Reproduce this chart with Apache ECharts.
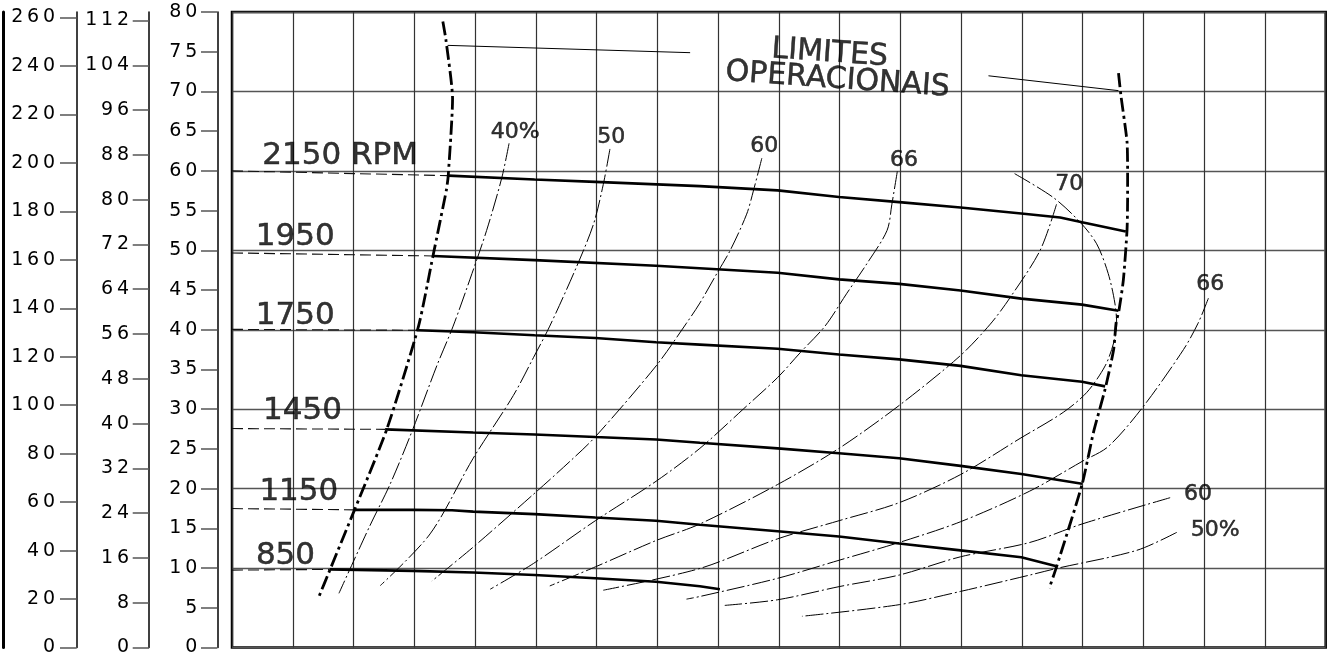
<!DOCTYPE html>
<html>
<head>
<meta charset="utf-8">
<script src="https://cdn.jsdelivr.net/npm/echarts@6/dist/echarts.min.js"></script>
<style>
html,body{margin:0;padding:0;background:#fff;}
#chart{width:1334px;height:657px;}
</style>
</head>
<body>
<div id="chart"></div>
<script>
// ---------- tick labels of the three left scales ----------
const ticksKgf = [0,20,40,60,80,100,120,140,160,180,200,220,240,260];
const ticksPsi = [0,8,16,24,32,40,48,56,64,72,80,88,96,104,112];
const ticksM   = [0,5,10,15,20,25,30,35,40,45,50,55,60,65,70,75,80];

// ---------- rotation curves (x = flow in grid columns, y = head on 0-80 scale) ----------
const rpmNames = ['2150 RPM','1950','1750','1450','1150','850'];
const shutoffHead = [60.0, 49.67, 40.05, 27.56, 17.49, 9.74];
const rpm2150 = [[3.56,59.40],[4.98,58.91],[5.98,58.62],[7.70,58.08],[8.98,57.54],[9.99,56.72],[10.98,56.07],[11.99,55.39],[12.99,54.64],[13.63,54.14],[13.99,53.52],[14.71,52.36]];
const rpm1950 = [[3.31,49.29],[4.98,48.76],[6.98,48.05],[8.98,47.18],[9.99,46.34],[10.98,45.77],[11.99,44.94],[12.99,43.92],[13.99,43.16],[14.59,42.40]];
const rpm1750 = [[3.07,39.93],[3.97,39.68],[4.98,39.30],[5.98,38.97],[6.98,38.43],[7.70,38.13],[8.98,37.60],[9.99,36.89],[10.98,36.27],[11.99,35.45],[12.99,34.28],[13.99,33.46],[14.37,32.87]];
const rpm1450 = [[2.52,27.46],[3.97,27.06],[4.98,26.82],[5.98,26.49],[6.98,26.19],[7.70,25.78],[8.98,25.07],[9.99,24.45],[10.98,23.83],[11.99,22.86],[12.99,21.84],[13.99,20.62]];
const rpm1150 = [[2.02,17.33],[2.97,17.33],[3.62,17.28],[3.97,17.11],[4.98,16.79],[5.98,16.37],[6.98,15.96],[7.70,15.46],[8.98,14.63],[9.99,13.97],[10.98,13.10],[11.99,12.23],[12.99,11.36],[13.57,10.24]];
const rpm850  = [[1.61,9.83],[2.97,9.65],[3.97,9.45],[4.98,9.12],[5.98,8.71],[6.98,8.28],[7.70,7.71],[8.03,7.34]];
const rpmCurves = [rpm2150, rpm1950, rpm1750, rpm1450, rpm1150, rpm850];
const rpmLabelAt = [[1.78,62.23],[1.04,52.03],[1.04,42.08],[1.16,30.14],[1.10,19.94],[0.88,11.85]];

// ---------- operating limits ----------
const limitLeft  = [[3.47,78.81],[3.52,76.53],[3.63,69.07],[3.56,59.53],[3.53,57.66],[3.31,49.38],[3.07,40.46],[2.55,27.52],[2.02,17.39],[1.61,9.74],[1.43,6.38]];
const limitRight = [[14.59,72.30],[14.63,69.48],[14.73,63.68],[14.74,59.53],[14.74,56.63],[14.73,52.49],[14.67,46.27],[14.60,42.54],[14.55,40.83],[14.51,37.51],[14.37,32.54],[14.18,27.15],[13.99,20.52],[13.57,10.15],[13.45,7.46]];
const leaderLeft  = [[3.55,75.80],[7.54,74.88]];
const leaderRight = [[12.45,71.97],[14.59,70.10]];
const limitText = [['LIMITES',9.84,75.16],['OPERACIONAIS',9.97,71.80]];

// ---------- efficiency curves ----------
const eff40  = [[4.56,63.47],[4.44,59.12],[4.19,52.49],[3.95,47.09],[3.64,40.46],[3.37,35.45],[2.97,27.36],[2.60,20.52],[2.27,15.34],[1.76,6.82]];
const eff50  = [[6.22,62.76],[6.11,58.28],[5.95,53.31],[5.67,47.92],[5.23,40.46],[4.96,36.48],[4.63,31.72],[3.97,23.83],[3.26,14.30],[2.44,7.79]];
const eff60  = [[8.72,61.60],[8.58,57.46],[8.47,54.55],[8.20,50.00],[7.98,47.09],[7.70,43.36],[7.48,40.83],[6.98,35.45],[5.98,26.53],[5.56,23.42],[4.96,19.28],[3.97,12.64],[3.29,8.37]];
const eff66  = [[10.95,59.95],[10.86,55.80],[10.78,52.49],[10.45,48.33],[10.12,44.60],[9.76,40.46],[9.35,37.10],[8.98,33.99],[8.42,30.05],[7.70,25.07],[6.98,20.93],[5.98,15.96],[4.96,10.57],[4.25,7.34]];
const eff70a = [[13.57,55.80],[13.30,50.00],[12.80,43.98],[12.48,40.71],[11.98,36.69],[10.98,30.47],[9.99,25.07],[8.98,20.52],[7.70,15.55],[6.98,13.47],[5.98,10.15],[5.23,7.75]];
const eff70b = [[12.88,59.65],[13.52,56.63],[13.96,53.52],[14.23,50.82],[14.42,47.09],[14.53,43.36],[14.56,40.71],[14.51,38.35],[14.37,35.45],[14.07,32.13],[13.68,29.60],[12.97,26.32],[11.99,21.77],[10.98,18.23],[9.99,15.96],[8.98,13.68],[7.70,9.95],[6.11,7.21]];
const eff66r = [[16.07,43.98],[15.90,40.83],[15.66,37.51],[14.99,30.26],[14.42,25.29],[13.99,23.42],[13.13,19.69],[11.99,15.83],[10.98,13.22],[9.99,10.98],[8.98,8.71],[7.70,6.42],[7.48,6.09]];
const eff60r = [[15.44,18.86],[13.99,15.55],[13.13,13.22],[11.99,11.42],[10.98,9.12],[9.99,7.66],[8.98,6.01],[8.11,5.30]];
const eff50r = [[15.55,14.50],[14.89,12.23],[13.57,9.95],[13.13,9.12],[11.99,7.06],[10.98,5.39],[9.38,3.93]];
const effCurves = [eff40, eff50, eff60, eff66, eff70a, eff70b, eff66r, eff60r, eff50r];
const effLabels = [['40%',4.66,65.21],['50',6.24,64.59],['60',8.76,63.47],['66',11.06,61.67],['70',13.78,58.74],['66',16.10,46.06],['60',15.90,19.63],['50%',16.18,15.12]];

// ---------- styles ----------
const FONT = 'DejaVu Sans';
const spaced = v => String(v).split('').join('\u2009');

const series = [];
rpmCurves.forEach((c, i) => {
  series.push({type:'line', data:c, symbol:'none', smooth:false, silent:true,
    lineStyle:{color:'#000', width:2.6}, z:5});
  series.push({type:'line', data:[[0, shutoffHead[i]], c[0]], symbol:'none', silent:true,
    lineStyle:{color:'#111', width:1.1, type:[11,5]}, z:4});
});
effCurves.forEach(c => {
  series.push({type:'line', data:c, symbol:'none', smooth:0.3, silent:true,
    lineStyle:{color:'#000', width:1, type:[18,3,2,3]}, z:4});
});
[limitLeft, limitRight].forEach(c => {
  series.push({type:'line', data:c, symbol:'none', smooth:0.2, silent:true,
    lineStyle:{color:'#000', width:2.8, type:[14,4,3,4]}, z:6});
});
[leaderLeft, leaderRight].forEach(c => {
  series.push({type:'line', data:c, symbol:'none', silent:true,
    lineStyle:{color:'#000', width:1}, z:4});
});
function textSeries(items, fontSize, rotate) {
  return {type:'scatter', symbolSize:1, silent:true, z:7,
    itemStyle:{color:'rgba(0,0,0,0)'},
    data: items.map(t => ({value:[t[1], t[2], t[0]]})),
    label:{show:true, position:'inside', formatter:p => p.value[2], offset:[0,3],
      color:'#000', fontFamily:FONT, fontSize:fontSize, rotate:rotate,
      textBorderColor:'#000', textBorderWidth:0.5}};
}
series.push(textSeries(rpmNames.map((n,i)=>[n, rpmLabelAt[i][0], rpmLabelAt[i][1]]), 31, 0));
series.push(textSeries(effLabels, 22, 0));
series.push(textSeries(limitText, 30, -4));

const labelStyle = {color:'#000', fontFamily:FONT, fontSize:19, formatter:spaced};

const option = {
  animation:false,
  backgroundColor:'#fff',
  grid:{left:232, top:12, right:8.3, bottom:1.7, show:true, borderColor:'#000', borderWidth:2.5, backgroundColor:'rgba(0,0,0,0)'},
  xAxis:{type:'value', min:0, max:18, interval:1,
    axisLine:{show:false}, axisTick:{show:false}, axisLabel:{show:false},
    splitLine:{show:true, lineStyle:{color:'#333', width:1.2}}},
  yAxis:[
    {type:'value', min:0, max:80, interval:10, position:'left',
      axisLine:{show:false}, axisTick:{show:false}, axisLabel:{show:false},
      splitLine:{show:true, lineStyle:{color:'#555', width:1.4}}},
    {type:'value', min:0, max:80, interval:5, position:'left', offset:14.7,
      axisLine:{show:true, lineStyle:{color:'#000', width:1.5}},
      axisTick:{show:true, length:16.3, customValues:ticksM, lineStyle:{color:'#555', width:1.5}},
      axisLabel:Object.assign({margin:20, customValues:ticksM}, labelStyle),
      splitLine:{show:false}},
    {type:'value', min:0, max:113.52, position:'left', offset:83,
      axisLine:{show:true, lineStyle:{color:'#000', width:1.5}},
      axisTick:{show:true, length:16.3, customValues:ticksPsi, lineStyle:{color:'#555', width:1.5}},
      axisLabel:Object.assign({margin:20, customValues:ticksPsi}, labelStyle),
      splitLine:{show:false}},
    {type:'value', min:0, max:262.26, position:'left', offset:155.3,
      axisLine:{show:true, lineStyle:{color:'#000', width:1.5}},
      axisTick:{show:true, length:16.7, customValues:ticksKgf, lineStyle:{color:'#555', width:1.5}},
      axisLabel:Object.assign({margin:21.7, customValues:ticksKgf}, labelStyle),
      splitLine:{show:false}},
    {type:'value', min:0, max:80, position:'left', offset:229,
      axisLine:{show:true, lineStyle:{color:'#000', width:3}},
      axisTick:{show:false}, axisLabel:{show:false}, splitLine:{show:false}}
  ],
  series: series
};

const chart = echarts.init(document.getElementById('chart'));
chart.setOption(option);
</script>
</body>
</html>
